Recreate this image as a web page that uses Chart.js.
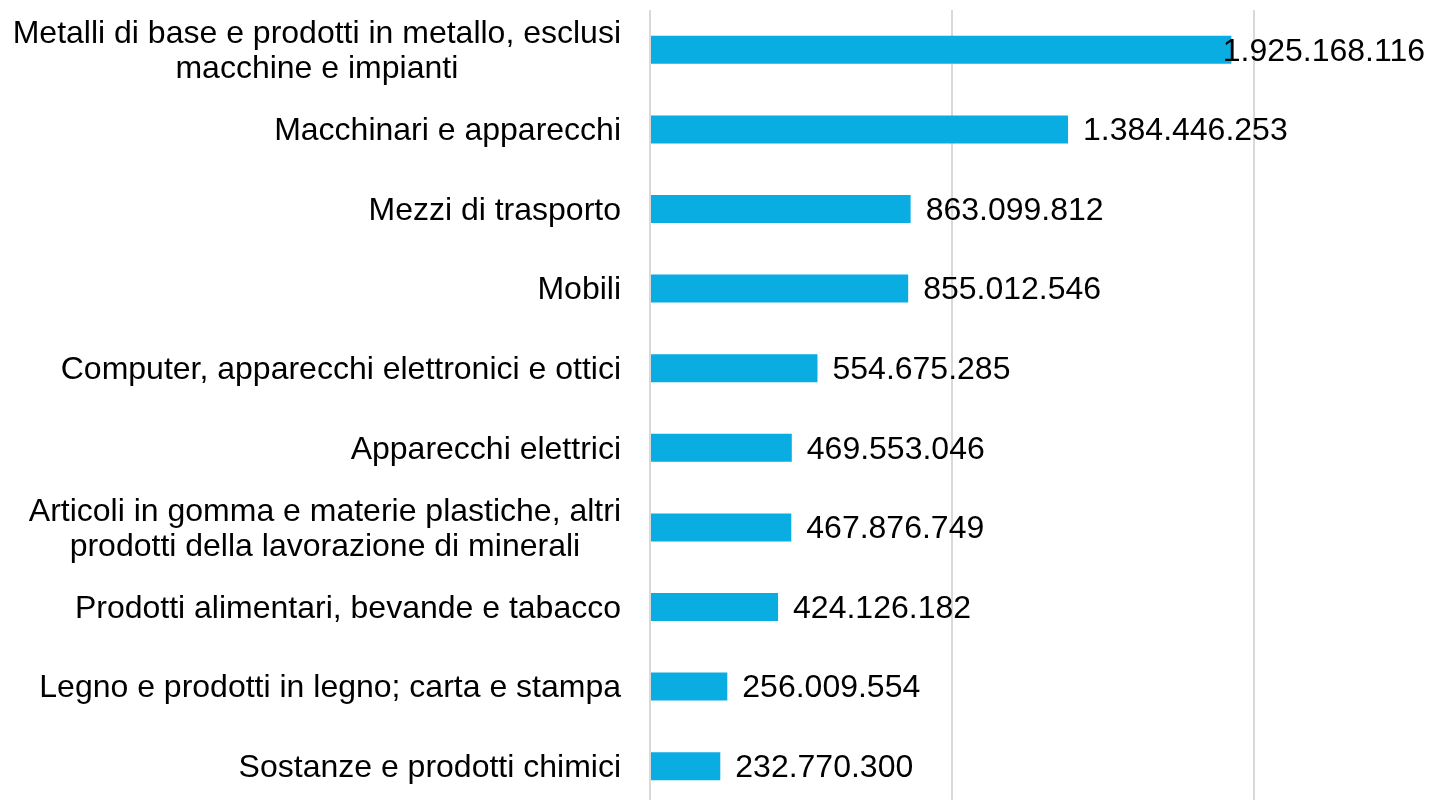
<!DOCTYPE html>
<html>
<head>
<meta charset="utf-8">
<script src="https://cdn.jsdelivr.net/npm/chart.js@4.4.1/dist/chart.umd.min.js"></script>
<style>
  html, body { margin: 0; padding: 0; background: #ffffff; overflow: hidden; }
  #wrap { position: absolute; left: 0; top: 0; width: 1433px; height: 806px; }
</style>
</head>
<body>
<div id="wrap"><canvas id="c" width="1433" height="806"></canvas></div>
<script>
const categories = [
  ["Metalli di base e prodotti in metallo, esclusi", "macchine e impianti"],
  ["Macchinari e apparecchi"],
  ["Mezzi di trasporto"],
  ["Mobili"],
  ["Computer, apparecchi elettronici e ottici"],
  ["Apparecchi elettrici"],
  ["Articoli in gomma e materie plastiche, altri", "prodotti della lavorazione di minerali"],
  ["Prodotti alimentari, bevande e tabacco"],
  ["Legno e prodotti in legno; carta e stampa"],
  ["Sostanze e prodotti chimici"]
];
const values = [
  1925168116, 1384446253, 863099812, 855012546, 554675285,
  469553046, 467876749, 424126182, 256009554, 232770300
];
const gridTicks = [0, 1000000000, 2000000000];

const FONT = '"Liberation Sans", Arial, sans-serif';
const LABEL_SIZE = 32;
const VALUE_SIZE = 32;

function fmt(n) {
  return String(Math.round(n)).replace(/\B(?=(\d{3})+(?!\d))/g, ".");
}

const labelPlugin = {
  id: 'customLabels',
  afterDatasetsDraw(chart) {
    const ctx = chart.ctx;
    const meta = chart.getDatasetMeta(0);
    const yScale = chart.scales.y;
    const dy = 2;
    ctx.save();
    ctx.fillStyle = '#000000';
    ctx.textBaseline = 'middle';
    ctx.font = LABEL_SIZE + 'px ' + FONT;
    const rightX = 621;
    const lh = 35;
    categories.forEach((lines, i) => {
      const yc = yScale.getPixelForValue(i) + dy;
      if (lines.length === 1) {
        ctx.textAlign = 'right';
        ctx.fillText(lines[0], rightX, yc);
      } else {
        const w = Math.max(...lines.map(l => ctx.measureText(l).width));
        const cx = rightX - w / 2;
        ctx.textAlign = 'center';
        const y0 = yc - (lines.length - 1) * lh / 2;
        lines.forEach((l, k) => ctx.fillText(l, cx, y0 + k * lh));
      }
    });
    ctx.font = VALUE_SIZE + 'px ' + FONT;
    ctx.textAlign = 'left';
    meta.data.forEach((bar, i) => {
      const t = fmt(values[i]);
      const w = ctx.measureText(t).width;
      let x = bar.x + 15;
      if (x + w > 1425) x = 1425 - w;
      ctx.fillText(t, x, bar.y + dy);
    });
    ctx.restore();
  }
};

new Chart(document.getElementById('c'), {
  type: 'bar',
  data: {
    labels: categories,
    datasets: [{
      data: values,
      backgroundColor: '#0AADE2',
      borderWidth: 0,
      barPercentage: 0.352,
      categoryPercentage: 1.0
    }]
  },
  options: {
    indexAxis: 'y',
    responsive: false,
    animation: false,
    layout: { padding: { left: 650, top: 10, right: 0, bottom: 0 } },
    plugins: { legend: { display: false }, tooltip: { enabled: false } },
    scales: {
      x: {
        min: 0,
        max: 2593000000,
        afterBuildTicks(scale) {
          scale.ticks = gridTicks.map(v => ({ value: v }));
        },
        ticks: { display: false },
        border: { display: false },
        grid: { color: '#D9D9D9', lineWidth: 2, drawTicks: false }
      },
      y: {
        display: false,
        grid: { display: false }
      }
    }
  },
  plugins: [labelPlugin]
});
</script>
</body>
</html>
